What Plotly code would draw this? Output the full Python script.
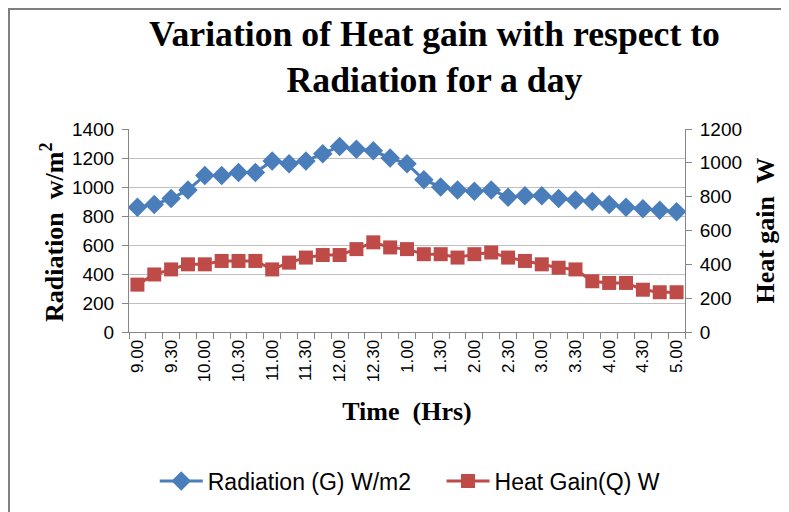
import plotly.graph_objects as go

# ---------- data ----------
TIMES = [
    "9.00", "9.15", "9.30", "9.45", "10.00", "10.15", "10.30", "10.45",
    "11.00", "11.15", "11.30", "11.45", "12.00", "12.15", "12.30", "12.45",
    "1.00", "1.15", "1.30", "1.45", "2.00", "2.15", "2.30", "2.45",
    "3.00", "3.15", "3.30", "3.45", "4.00", "4.15", "4.30", "4.45", "5.00",
]

RADIATION = [
    860, 880, 920, 980, 1080, 1080, 1100, 1100,
    1180, 1160, 1180, 1230, 1280, 1260, 1250, 1200,
    1160, 1050, 1000, 980, 970, 980, 930, 940,
    940, 920, 910, 900, 880, 860, 850, 840, 830,
]

HEAT_GAIN = [
    280, 340, 370, 400, 400, 420, 420, 420,
    370, 410, 440, 455, 455, 490, 530, 500,
    490, 460, 460, 440, 460, 470, 440, 420,
    400, 380, 370, 300, 290, 290, 250, 235, 235,
]

BLUE = "#4A7EBB"
RED = "#BE4B48"
GRID = "#BFBFBF"
AXIS = "#868686"
SANS = "Liberation Sans, Arial, sans-serif"
SERIF = "Liberation Serif, Times New Roman, serif"
NBSP = "\u00a0"

idx = list(range(len(TIMES)))

fig = go.Figure()

fig.add_trace(go.Scatter(
    x=idx, y=RADIATION, name="Radiation (G) W/m2" + NBSP * 4,
    mode="lines+markers",
    line=dict(color=BLUE, width=3),
    marker=dict(symbol="diamond", size=15, color=BLUE),
))

fig.add_trace(go.Scatter(
    x=idx, y=HEAT_GAIN, name="Heat Gain(Q) W", yaxis="y2",
    mode="lines+markers",
    line=dict(color=RED, width=3),
    marker=dict(symbol="square", size=14, color=RED),
))

title_font = dict(family=SERIF, size=26, color="black", weight="bold")

# page body adds an 8px offset, so margins are shifted by that amount
fig.update_layout(
    width=789, height=512,
    paper_bgcolor="white", plot_bgcolor="white",
    margin=dict(l=121, r=112, t=121, b=188, autoexpand=False),
    xaxis=dict(
        range=[-0.5, len(TIMES) - 0.5],
        tickmode="array",
        tickvals=idx[::2],
        ticktext=TIMES[::2],
        tickangle=-90,
        ticks="",
        minor=dict(ticks="outside", tickmode="linear", tick0=-0.5, dtick=1,
                   ticklen=6, tickcolor=AXIS, showgrid=False),
        tickfont=dict(family=SANS, size=17, color="black"),
        showline=True, linecolor=AXIS, linewidth=1,
        showgrid=False, zeroline=False, automargin=False,
        title=dict(text="Time  (Hrs)", standoff=20, font=title_font),
    ),
    yaxis=dict(
        range=[0, 1400], dtick=200,
        tickfont=dict(family=SANS, size=19, color="black"),
        ticks="outside", ticklen=6, tickcolor=AXIS, ticklabelstandoff=4,
        showline=True, linecolor=AXIS, linewidth=1,
        showgrid=True, gridcolor=GRID, gridwidth=1,
        zeroline=False, automargin=False,
    ),
    yaxis2=dict(
        overlaying="y", side="right",
        range=[0, 1200], dtick=200,
        tickfont=dict(family=SANS, size=19, color="black"),
        ticks="outside", ticklen=6, tickcolor=AXIS, ticklabelstandoff=4,
        showline=True, linecolor=AXIS, linewidth=1,
        showgrid=False, zeroline=False, automargin=False,
        title=dict(text="Heat gain  W", standoff=14, font=title_font),
    ),
    legend=dict(
        orientation="h",
        xref="container", x=0.186, xanchor="left",
        y=-0.734, yanchor="middle",
        font=dict(family=SANS, size=23, color="black"),
        itemwidth=43,
    ),
    showlegend=True,
    annotations=[
        dict(
            text="Variation of Heat gain with respect to<br>Radiation for a day",
            font=dict(family=SERIF, size=35.7, color="black", weight="bold"),
            xref="paper", yref="paper", x=0.549, y=1.576,
            xanchor="center", yanchor="top", showarrow=False,
        ),
        dict(
            text="Radiation  w/m<sup>2</sup>", textangle=-90,
            font=title_font,
            xref="paper", yref="paper", x=-0.1366, y=0.493,
            xanchor="center", yanchor="middle", showarrow=False,
        ),
    ],
    shapes=[dict(
        type="rect", xref="paper", yref="paper",
        x0=-0.2158, x1=1.6, y0=-1.2, y1=1.591,
        line=dict(color="#7F7F7F", width=2), fillcolor="rgba(0,0,0,0)",
        layer="below",
    )],
)

fig.write_html("out.html")
